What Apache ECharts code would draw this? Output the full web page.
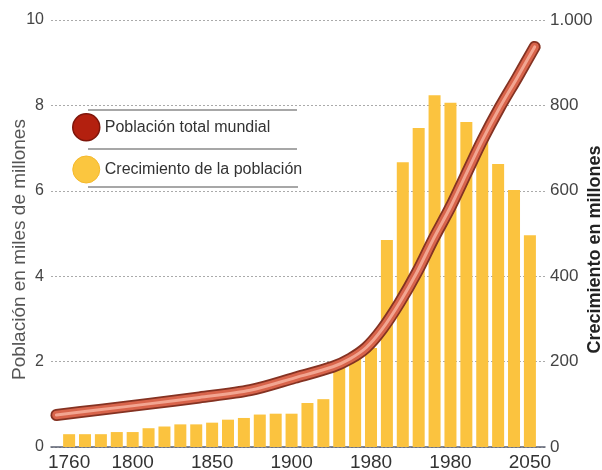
<!DOCTYPE html>
<html>
<head>
<meta charset="utf-8">
<script src="https://cdn.jsdelivr.net/npm/echarts@6/dist/echarts.min.js"></script>
<style>
  html, body { margin: 0; padding: 0; background: #ffffff; }
  #chart { width: 602px; height: 470px; }
</style>
</head>
<body>
<div id="chart"></div>
<script>
// Growth of world population per decade (millions), bars on the right axis
var barYears = [1760, 1770, 1780, 1790, 1800, 1810, 1820, 1830, 1840, 1850,
                1860, 1870, 1880, 1890, 1900, 1910, 1920, 1930, 1940, 1950,
                1960, 1970, 1980, 1990, 2000, 2010, 2020, 2030, 2040, 2050];
var growth = [30, 30, 30, 35, 35, 44, 48, 53, 53, 57,
              64, 68, 76, 78, 78, 103, 112, 197, 208, 232,
              485, 667, 747, 824, 806, 761, 720, 663, 602, 496];

// Total world population (thousands of millions), line on the left axis
var popYears = [1752, 1779, 1810, 1842, 1874, 1902, 1926, 1937, 1947, 1957,
                1968, 1979, 1989, 2000, 2010, 2020, 2031, 2042, 2053];
var population = [0.75, 0.87, 1.01, 1.16, 1.33, 1.62, 1.88, 2.07, 2.33, 2.76,
                  3.38, 4.10, 4.85, 5.62, 6.40, 7.18, 7.95, 8.65, 9.37];

// Year axis labels as printed under the chart
var xTickValues = [1760, 1800, 1850, 1900, 1950, 2000, 2050];
var xTickLabels = ['1760', '1800', '1850', '1900', '1980', '1980', '2050'];

var lineName = 'Población total mundial';
var barName = 'Crecimiento de la población';

var barData = barYears.map(function (y, i) { return [y, growth[i]]; });
var lineData = popYears.map(function (y, i) { return [y, population[i]]; });

var font = 'Liberation Sans, Arial, Helvetica, sans-serif';

function tube(width, color, z) {
  return {
    type: 'line',
    name: z === 3 ? lineName : '_tube' + z,
    yAxisIndex: 0,
    data: lineData,
    smooth: 0.3,
    symbol: 'none',
    z: z,
    silent: true,
    lineStyle: { width: width, color: color, cap: 'round', join: 'round' }
  };
}

var chart = echarts.init(document.getElementById('chart'), null, { renderer: 'canvas' });
chart.setOption({
  backgroundColor: '#ffffff',
  animation: false,
  grid: { left: 51, right: 57, top: 20, bottom: 23, outerBoundsMode: 'none', containLabel: false },
  legend: {
    orient: 'vertical',
    left: 72,
    top: 113,
    padding: 0,
    itemWidth: 27,
    itemHeight: 27,
    itemGap: 14,
    icon: 'circle',
    textStyle: { fontFamily: font, fontSize: 16, color: '#333333' },
    data: [
      { name: lineName, itemStyle: { color: '#b3200f', borderColor: '#7e150a', borderWidth: 1.5 } },
      { name: barName, itemStyle: { color: '#fbc63f', borderColor: '#f5b92c', borderWidth: 1 } }
    ]
  },
  xAxis: {
    type: 'value',
    min: 1748.6,
    max: 2059.5,
    splitLine: { show: false },
    axisTick: { show: false },
    axisLine: { show: true, lineStyle: { color: '#5b6070', width: 1.5 } },
    axisLabel: {
      customValues: xTickValues,
      formatter: function (v) {
        var k = xTickValues.indexOf(v);
        return k >= 0 ? xTickLabels[k] : '';
      },
      fontFamily: font,
      fontSize: 19,
      color: '#333333',
      margin: 6
    }
  },
  yAxis: [
    {
      type: 'value',
      position: 'left',
      min: 0,
      max: 10,
      interval: 2,
      axisLine: { show: false },
      axisTick: { show: false },
      axisLabel: { fontFamily: font, fontSize: 16, color: '#444444', margin: 7 },
      splitLine: { show: true, lineStyle: { color: '#aaaaaa', type: [2, 2], width: 1 } },
      name: 'Población en miles de millones',
      nameLocation: 'middle',
      nameGap: 22,
      nameMoveOverlap: false,
      nameTextStyle: { fontFamily: font, fontSize: 19, color: '#555555', padding: [0, 32, 0, 0] }
    },
    {
      type: 'value',
      position: 'right',
      min: 0,
      max: 1000,
      interval: 200,
      axisLine: { show: false },
      axisTick: { show: false },
      splitLine: { show: false },
      axisLabel: {
        fontFamily: font, fontSize: 17, color: '#444444', margin: 5,
        formatter: function (v) { return v === 1000 ? '1.000' : String(v); }
      },
      name: 'Crecimiento en millones',
      nameLocation: 'middle',
      nameRotate: 90,
      nameGap: 41,
      nameMoveOverlap: false,
      nameTextStyle: { fontFamily: font, fontSize: 18, fontWeight: 'bold', color: '#222222', padding: [0, 32, 0, 0] }
    }
  ],
  graphic: [
    { type: 'line', shape: { x1: 88, y1: 110, x2: 297, y2: 110 }, style: { stroke: '#8a8a8a', lineWidth: 1.5 }, z: 100 },
    { type: 'line', shape: { x1: 88, y1: 149, x2: 297, y2: 149 }, style: { stroke: '#8a8a8a', lineWidth: 1.5 }, z: 100 },
    { type: 'line', shape: { x1: 88, y1: 187, x2: 298, y2: 187 }, style: { stroke: '#8a8a8a', lineWidth: 1.5 }, z: 100 }
  ],
  series: [
    {
      type: 'bar',
      name: barName,
      yAxisIndex: 1,
      data: barData,
      barWidth: 12,
      z: 1,
      itemStyle: { color: '#fbc33f' }
    },
    tube(12, '#843222', 3),
    tube(8.5, '#d8644b', 4),
    tube(3, '#f2a591', 5)
  ]
});
</script>
</body>
</html>
